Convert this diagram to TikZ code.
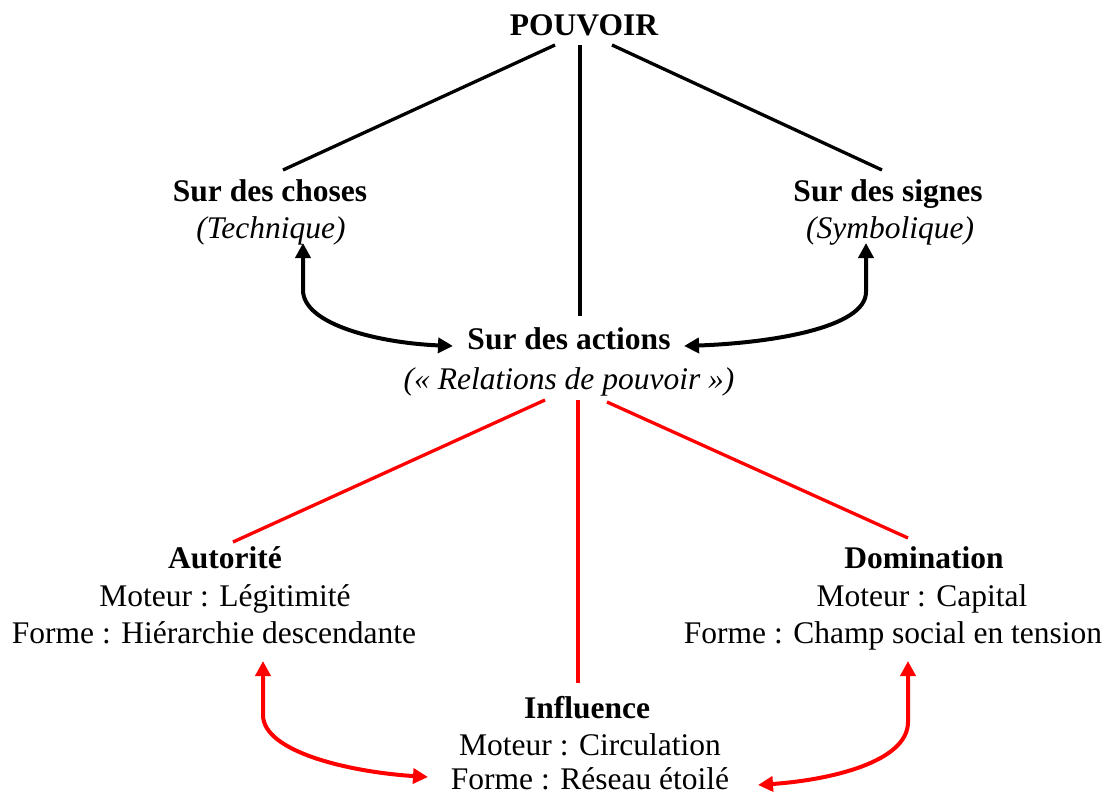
\documentclass[tikz,border=0pt]{standalone}
\usepackage{fontspec}
\setmainfont{Liberation Serif}
\usetikzlibrary{arrows.meta}
\begin{document}
\begin{tikzpicture}[x=1pt,y=-1pt,
  txt/.style={anchor=base,inner sep=0pt,font=\fontsize{31.5}{37}\selectfont},
  ttl/.style={txt,font=\fontsize{31.5}{37}\selectfont\bfseries},
  sub/.style={txt,font=\fontsize{31.5}{37}\selectfont\itshape},
  bl/.style={line width=3.3pt,black},
  rl/.style={line width=3.3pt,red},
  barr/.style={line width=4pt,black,{Triangle[length=15pt,width=15pt]}-{Triangle[length=15pt,width=15pt]}},
  rarr/.style={line width=4pt,red,{Triangle[length=15pt,width=15pt]}-{Triangle[length=15pt,width=15pt]}}]
\useasboundingbox (0,0) rectangle (1110,794);
% texts
\node[ttl] (pouvoir) at (584,36) {POUVOIR};
\node[ttl] (choses) at (270,202) {Sur des choses};
\node[sub] (technique) at (271,239) {(Technique)};
\node[ttl] (signes) at (888,202) {Sur des signes};
\node[sub] (symbolique) at (890,239) {(Symbolique)};
\node[ttl] (actions) at (569,349) {Sur des actions};
\node[sub] (relations) at (569,389) {(« Relations de pouvoir »)};
\node[ttl] (autorite) at (225,568) {Autorité};
\node[txt] (autm) at (225,606) {Moteur : Légitimité};
\node[txt] (autf) at (214,643) {Forme : Hiérarchie descendante};
\node[ttl] (domination) at (924,568) {Domination};
\node[txt] (domm) at (922,606) {Moteur : Capital};
\node[txt] (domf) at (893,643) {Forme : Champ social en tension};
\node[ttl] (influence) at (587,718) {Influence};
\node[txt] (infm) at (590,755) {Moteur : Circulation};
\node[txt] (inff) at (590,789) {Forme : Réseau étoilé};
% connector ends
\coordinate (p1) at (555,45);
\coordinate (p2) at (580,45);
\coordinate (p3) at (612,45);
\coordinate (c1) at (283,170);
\coordinate (a1) at (580,316);
\coordinate (s1) at (882,170);
\coordinate (r1) at (545,400);
\coordinate (r2) at (578,400);
\coordinate (r3) at (607,402);
\coordinate (au1) at (233,542);
\coordinate (in1) at (578,683);
\coordinate (do1) at (908,538);
\coordinate (ltip) at (303,243);
\coordinate (ltip2) at (453,346);
\coordinate (rtip) at (866,243);
\coordinate (rtip2) at (684,346);
\coordinate (rl1) at (263,661);
\coordinate (rl2) at (428,777);
\coordinate (rr1) at (908,661);
\coordinate (rr2) at (758,785);
% lines
\draw[bl] (p1) -- (c1);
\draw[bl] (p2) -- (a1);
\draw[bl] (p3) -- (s1);
\draw[rl] (r1) -- (au1);
\draw[rl] (r2) -- (in1);
\draw[rl] (r3) -- (do1);
% arrows
\draw[barr] (ltip) -- (303,290) .. controls (303,325) and (380,343) .. (ltip2);
\draw[barr] (rtip) -- (866,292) .. controls (866,328) and (770,343) .. (rtip2);
\draw[rarr] (rl1) -- (263,715) .. controls (263,752) and (350,772) .. (rl2);
\draw[rarr] (rr1) -- (908,722) .. controls (908,762) and (830,780) .. (rr2);
\end{tikzpicture}
\end{document}
